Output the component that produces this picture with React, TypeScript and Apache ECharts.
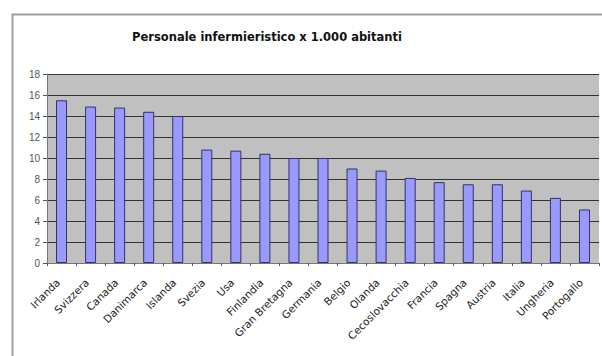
import React, { useEffect, useRef } from "react";
import * as echarts from "echarts";

const categories = [
  "Irlanda", "Svizzera", "Canada", "Danimarca", "Islanda", "Svezia", "Usa",
  "Finlandia", "Gran Bretagna", "Germania", "Belgio", "Olanda", "Cecoslovacchia",
  "Francia", "Spagna", "Austria", "Italia", "Ungheria", "Portogallo",
];
const values = [15.5, 14.9, 14.8, 14.4, 14.0, 10.8, 10.7, 10.4, 10.0, 10.0, 9.0, 8.8, 8.1, 7.7, 7.5, 7.5, 6.9, 6.2, 5.1];
const titleText = "Personale infermieristico x 1.000 abitanti";

export default function App() {
  const ref = useRef<HTMLDivElement>(null);
  useEffect(() => {
    const chart = echarts.init(ref.current!, null, { renderer: "svg" });
    chart.setOption({
      animation: false,
      backgroundColor: "#ffffff",
      title: {
        text: titleText,
        left: 262,
        textAlign: "center",
        top: 26,
        textStyle: { fontFamily: "DejaVu Sans", fontSize: 11.5, fontWeight: "bold", color: "#111" },
      },
      graphic: [
        {
          type: "rect",
          shape: { x: 12.5, y: 14.5, width: 620, height: 360 },
          style: { fill: "none", stroke: "#a0a0a0", lineWidth: 2 },
          silent: true,
        },
      ],
      grid: { left: 47, right: 3, top: 74, bottom: 93, show: true, backgroundColor: "#c0c0c0", borderWidth: 0 },
      xAxis: {
        type: "category",
        data: categories,
        axisLine: { lineStyle: { color: "#777", width: 1 } },
        axisTick: { show: true, alignWithLabel: false, length: 3, lineStyle: { color: "#555" } },
        axisLabel: {
          rotate: 45,
          interval: 0,
          margin: 14,
          padding: [0, 5, 0, 0],
          fontFamily: "DejaVu Sans",
          fontSize: 10.5,
          color: "#222",
        },
      },
      yAxis: {
        type: "value",
        min: 0,
        max: 18,
        interval: 2,
        axisLine: { show: true, lineStyle: { color: "#777" } },
        axisTick: { show: true, length: 4, lineStyle: { color: "#555" } },
        axisLabel: { fontFamily: "Arial", fontSize: 10, color: "#555", margin: 7 },
        splitLine: { show: true, lineStyle: { color: "#333", width: 1 } },
      },
      series: [
        {
          type: "bar",
          data: values,
          barWidth: 11,
          itemStyle: { color: "#9999ff", borderColor: "#333366", borderWidth: 1 },
        },
      ],
    });
    return () => chart.dispose();
  }, []);
  return <div ref={ref} style={{ width: 602, height: 356, position: "absolute", left: 0, top: 0 }} />;
}
